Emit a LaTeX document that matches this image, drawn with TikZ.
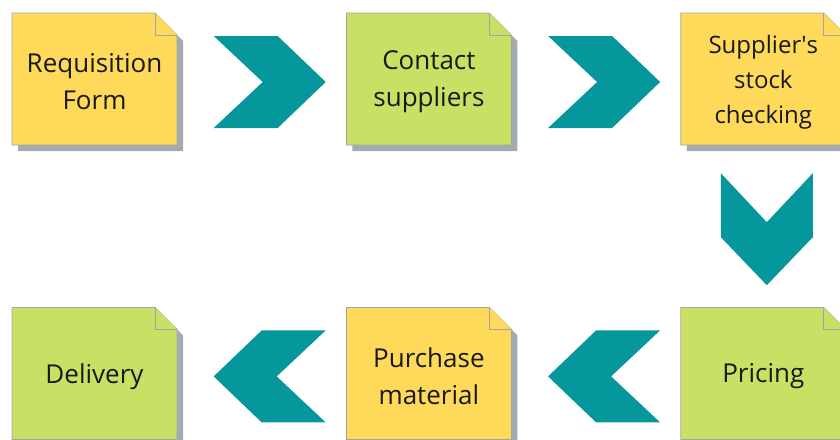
\documentclass[tikz,border=0pt]{standalone}
\usepackage{fontspec}
\setmainfont{Open Sans}
\usetikzlibrary{positioning,calc,backgrounds}

\definecolor{noteyellow}{HTML}{FFD95A}
\definecolor{notegreen}{HTML}{C8E064}
\definecolor{noteedge}{HTML}{9EA6AA}
\definecolor{noteshade}{HTML}{A3AAB2}
\definecolor{chevteal}{HTML}{05979B}

\tikzset{
	note/.style={minimum width=165pt, minimum height=132pt, inner sep=0pt,
		text width=160pt, align=center, text=black!90,
		font=\fontsize{26}{37}\selectfont},
	chevron/.style={fill=chevteal},
}

\begin{document}
\begin{tikzpicture}[x=1pt, y=-1pt]
	\useasboundingbox (0,0) rectangle (840,439);

	\node[note] (req) at (94.5,82) {Requisition\\Form};
	\node[note] (con) [right=169pt of req] {Contact\\suppliers};
	\node[note, font=\fontsize{24}{35}\selectfont] (sup) [right=169pt of con] {Supplier\textquotesingle s\\stock\\checking};
	\node[note] (pri) [below=162pt of sup] {Pricing};
	\node[note] (pur) [left=169pt of pri] {Purchase\\material};
	\node[note] (del) [left=169pt of pur] {Delivery};

	% paper notes: shadow, sheet and folded corner
	\begin{scope}[on background layer]
	\foreach \n/\c in {req/noteyellow, con/notegreen, sup/noteyellow, pri/notegreen, pur/noteyellow, del/notegreen} {
		\begin{scope}[shift={(\n.center)}, yshift=3pt]
			\fill[noteshade] (-76.5,-60) -- (66.5,-60) -- (88.5,-38) -- (88.5,72) -- (-76.5,72) -- cycle;
			\filldraw[fill=\c, draw=noteedge, line width=0.8pt] (-82.5,-66) -- (60.5,-66) -- (82.5,-44) -- (82.5,66) -- (-82.5,66) -- cycle;
			\filldraw[fill=\c, draw=noteedge, line width=0.8pt] (60.5,-66) -- (60.5,-44) -- (82.5,-44);
		\end{scope}
	}
	\end{scope}

	% chevrons between the steps
	\foreach \a/\b/\r/\dx in {req/con/0/8, con/sup/0/8, sup/pri/-90/3.5, pri/pur/180/8, pur/del/180/8} {
		\fill[chevron, shift={($(\a.center)!0.5!(\b.center)$)}, xshift=\dx pt, rotate=\r]
			(-56,-46) -- (8,-46) -- (56,0) -- (8,46) -- (-56,46) -- (-7,0) -- cycle;
	}

\end{tikzpicture}
\end{document}
